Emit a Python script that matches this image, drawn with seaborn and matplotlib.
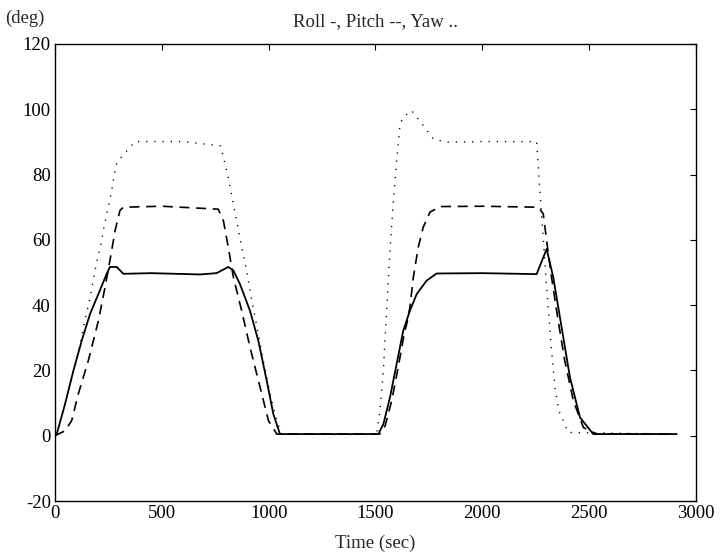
import matplotlib
matplotlib.use('Agg')
import matplotlib.pyplot as plt
import seaborn as sns

# Roll (solid line)
roll_t = [0, 8, 47, 86, 125, 164, 203, 242, 257, 289, 320, 450, 679, 756, 811, 835, 866, 913,
          952, 991, 1022, 1053, 1513, 1537, 1568, 1599, 1630, 1661, 1693, 1739, 1786,
          2000, 2254, 2301, 2332, 2371, 2410, 2457, 2519, 2910]
roll_v = [0, 0.5, 9.7, 19.9, 29.1, 37.3, 43.4, 49.6, 51.7, 51.7, 49.6, 49.8, 49.4, 49.8, 51.7,
          50.6, 46.4, 38.2, 29, 16.8, 6.6, 0.5, 0.5, 3.6, 11.8, 22, 32.2, 38.3, 43.4, 47.5,
          49.7, 49.8, 49.5, 57.2, 48.5, 33.2, 17.9, 5.6, 0.5, 0.5]

# Pitch (dashed line)
pitch_t = [0, 47, 78, 109, 156, 203, 234, 257, 281, 304, 320, 500, 764, 788, 811, 835, 874,
           913, 960, 999, 1038, 1520, 1545, 1575, 1605, 1635, 1646, 1661, 1677, 1700, 1723,
           1755, 1802, 2000, 2262, 2285, 2301, 2324, 2355, 2386, 2426, 2473, 2535, 2910]
pitch_v = [0, 1.5, 4.6, 12.8, 23, 35.2, 45.4, 53.6, 62.8, 69, 70, 70.3, 69.4, 65.9, 57.7, 48.5,
           38.2, 27, 14.8, 4.6, 0.5, 0.5, 3, 10.5, 20.5, 31.5, 34.2, 39.3, 48.5, 57.7, 63.8,
           68.5, 70.2, 70.3, 70, 68, 59.7, 48.5, 35.2, 22.9, 10.7, 2.5, 0.5, 0.5]

# Yaw (dotted line)
yaw_t = [0, 8, 101, 140, 164, 187, 200, 215, 226, 265, 278, 289, 374, 600, 775, 788, 811, 827,
         850, 874, 897, 921, 952, 975, 1007, 1038, 1061, 1505, 1521, 1537, 1545, 1552, 1560,
         1568, 1583, 1599, 1615, 1630, 1669, 1693, 1724, 1771, 1833, 2000, 2254, 2262,
         2301, 2324, 2340, 2358, 2402, 2910]
yaw_v = [0, 0.5, 23, 35.2, 42.3, 50.5, 54.6, 58.7, 62.8, 75, 80.1, 83.7, 90.1, 90.1, 88.8, 85.3,
         79.1, 73.5, 65.9, 57.7, 50.5, 41.3, 31.1, 22.9, 12.7, 4.6, 0.5, 0.5, 7.7, 20, 30.2,
         37.9, 47.6, 56.8, 71.5, 84.3, 95.5, 97.6, 99.6, 97.6, 95, 90.9, 89.9, 90.1, 90.1,
         82.2, 45.4, 26, 14.8, 7.7, 1, 0.5]

sns.set_style('white')
plt.rcParams['font.family'] = ['Liberation Serif', 'DejaVu Serif']
plt.rcParams['axes.unicode_minus'] = False

fig = plt.figure(figsize=(7.22, 5.57), dpi=100)
ax = fig.add_axes([55 / 722, 1 - 501 / 557, 641 / 722, 457 / 557])

sns.lineplot(x=roll_t, y=roll_v, color='black', linewidth=1.3, ax=ax)
sns.lineplot(x=pitch_t, y=pitch_v, color='black', linewidth=1.2, linestyle=(0, (6, 4)), ax=ax)
sns.lineplot(x=yaw_t, y=yaw_v, color='black', linewidth=1.0, linestyle=(0, (0.9, 5)), ax=ax)

ax.set_xlim(0, 3000)
ax.set_ylim(-20, 120)
ax.set_xticks(range(0, 3001, 500))
ax.set_yticks(range(-20, 121, 20))
ax.tick_params(direction='in', top=True, right=True, length=4, width=0.8,
               labelsize=13.5, pad=3, colors='black')
for s in ax.spines.values():
    s.set_color('black')
    s.set_linewidth(1.0)

ax.set_title('Roll -, Pitch --, Yaw ..', fontsize=13.5, pad=13)
ax.set_xlabel('Time (sec)', fontsize=13.5, labelpad=9)
fig.text(5 / 722, 1 - 18 / 557, '(deg)', fontsize=13.5, va='center', ha='left')

plt.savefig('out.png', dpi=100)
